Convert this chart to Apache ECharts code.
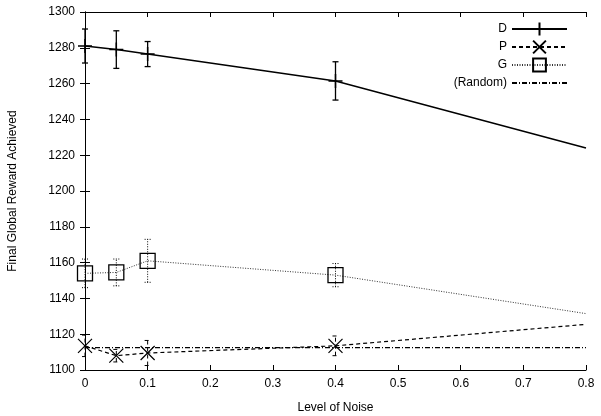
<!DOCTYPE html>
<html>
<head>
<meta charset="utf-8">
<script src="https://cdn.jsdelivr.net/npm/echarts@6/dist/echarts.min.js"></script>
<style>
  html, body { margin: 0; padding: 0; background: #fff; }
  #chart { width: 601px; height: 416px; }
</style>
</head>
<body>
<div id="chart"></div>
<script>
// Noise levels and measured final global reward (mean and error half-width)
const noise = [0, 0.05, 0.1, 0.4, 0.8];
const dMean = [1281, 1279, 1276.5, 1261.5, 1224];
const dErr  = [9.5, 10.5, 7, 10.7];
const pMean = [1113.5, 1108, 1109.5, 1113.5, 1125.5];
const pErr  = [6, 3.5, 7, 5.5];
const gMean = [1154, 1154.5, 1161, 1153, 1131.5];
const gErr  = [8, 7.5, 12, 6.5];
const randomX = [0, 0.8];
const randomY = [1112.5, 1112.5];

const FONT = '"Liberation Sans", Arial, sans-serif';

const SYM_PLUS = 'path://M0,-1L0,1M-1,0L1,0';
const SYM_CROSS = 'path://M-1,-1L1,1M-1,1L1,-1';

// Build line data; the last point (at the right border) carries no marker
function lineData(xs, ys) {
  return xs.map((x, i) => i === xs.length - 1
    ? { value: [x, ys[i]], symbol: 'none' }
    : [x, ys[i]]);
}

// Error-bar data: [x, low, high]
function errData(xs, ys, es) {
  return es.map((e, i) => [xs[i], ys[i] - e, ys[i] + e]);
}

function errSeries(name, data, dash, width) {
  return {
    name: name,
    type: 'custom',
    data: data,
    silent: true,
    z: 3,
    renderItem: function (params, api) {
      const lo = api.coord([api.value(0), api.value(1)]);
      const hi = api.coord([api.value(0), api.value(2)]);
      const cap = 3;
      const style = { stroke: '#000', lineWidth: width, lineDash: dash, fill: null };
      return {
        type: 'group',
        children: [
          { type: 'line', shape: { x1: lo[0], y1: lo[1], x2: hi[0], y2: hi[1] }, style: style },
          { type: 'line', shape: { x1: lo[0] - cap, y1: lo[1], x2: lo[0] + cap, y2: lo[1] }, style: style },
          { type: 'line', shape: { x1: hi[0] - cap, y1: hi[1], x2: hi[0] + cap, y2: hi[1] }, style: style }
        ]
      };
    }
  };
}

const chart = echarts.init(document.getElementById('chart'), null, { renderer: 'canvas' });

const axisLine = { show: true, lineStyle: { color: '#000', width: 1 } };
const tickStyle = { show: true, inside: true, length: 5, lineStyle: { color: '#000', width: 1 } };

chart.setOption({
  animation: false,
  backgroundColor: '#fff',
  grid: { left: 85, right: 15, top: 12, bottom: 46, outerBoundsMode: 'none', containLabel: false },
  legend: {
    data: ['D', 'P', 'G', '(Random)'],
    orient: 'vertical',
    align: 'right',
    right: 28,
    top: 16,
    itemWidth: 55,
    itemHeight: 16,
    itemGap: 2,
    textStyle: { fontFamily: FONT, fontSize: 12, color: '#000', lineHeight: 16 }
  },
  xAxis: [{
    type: 'value',
    min: 0, max: 0.8, interval: 0.1,
    name: 'Level of Noise',
    nameLocation: 'middle',
    nameGap: 32,
    nameTextStyle: { fontFamily: FONT, fontSize: 12, color: '#000' },
    axisLine: axisLine,
    axisTick: tickStyle,
    splitLine: { show: false },
    axisLabel: { fontFamily: FONT, fontSize: 12, color: '#000', margin: 8,
      formatter: v => (Math.round(v * 10) / 10).toString() }
  }, {
    type: 'value', position: 'top',
    min: 0, max: 0.8, interval: 0.1,
    axisLine: axisLine, axisTick: tickStyle,
    axisLabel: { show: false }, splitLine: { show: false }
  }],
  yAxis: [{
    type: 'value',
    min: 1100, max: 1300, interval: 20,
    name: 'Final Global Reward Achieved',
    nameLocation: 'middle',
    nameGap: 66,
    nameTextStyle: { fontFamily: FONT, fontSize: 12, color: '#000' },
    axisLine: axisLine,
    axisTick: tickStyle,
    splitLine: { show: false },
    axisLabel: { fontFamily: FONT, fontSize: 12, color: '#000', margin: 10,
      formatter: v => String(v) }
  }, {
    type: 'value', position: 'right',
    min: 1100, max: 1300, interval: 20,
    axisLine: axisLine, axisTick: tickStyle,
    axisLabel: { show: false }, splitLine: { show: false }
  }],
  series: [
    {
      name: 'D', type: 'line',
      data: lineData(noise, dMean),
      symbol: SYM_PLUS, symbolSize: 14,
      lineStyle: { color: '#000', width: 1.5, type: 'solid' },
      itemStyle: { color: 'transparent', borderColor: '#000', borderWidth: 1.5 },
      z: 4
    },
    errSeries('D-err', errData(noise, dMean, dErr), null, 1.3),
    {
      name: 'P', type: 'line',
      data: lineData(noise, pMean),
      symbol: SYM_CROSS, symbolSize: 14,
      lineStyle: { color: '#000', width: 1.2, type: [4, 3] },
      itemStyle: { color: 'transparent', borderColor: '#000', borderWidth: 1.2 },
      z: 4
    },
    errSeries('P-err', errData(noise, pMean, pErr), [4, 3], 1),
    {
      name: 'G', type: 'line',
      data: lineData(noise, gMean),
      symbol: 'rect', symbolSize: 15,
      lineStyle: { color: '#333', width: 1, type: [1, 1.5] },
      itemStyle: { color: 'transparent', borderColor: '#000', borderWidth: 1.3 },
      z: 4
    },
    errSeries('G-err', errData(noise, gMean, gErr), [1, 1.5], 1),
    {
      name: '(Random)', type: 'line',
      data: randomX.map((x, i) => [x, randomY[i]]),
      // invisible marker so the legend shows only the dash-dot line
      symbol: 'circle', showSymbol: false, symbolSize: 0,
      lineStyle: { color: '#000', width: 1.1, type: [5, 2, 1, 2] },
      itemStyle: { color: 'transparent', borderColor: 'transparent', borderWidth: 0 },
      z: 4
    }
  ]
});
</script>
</body>
</html>
